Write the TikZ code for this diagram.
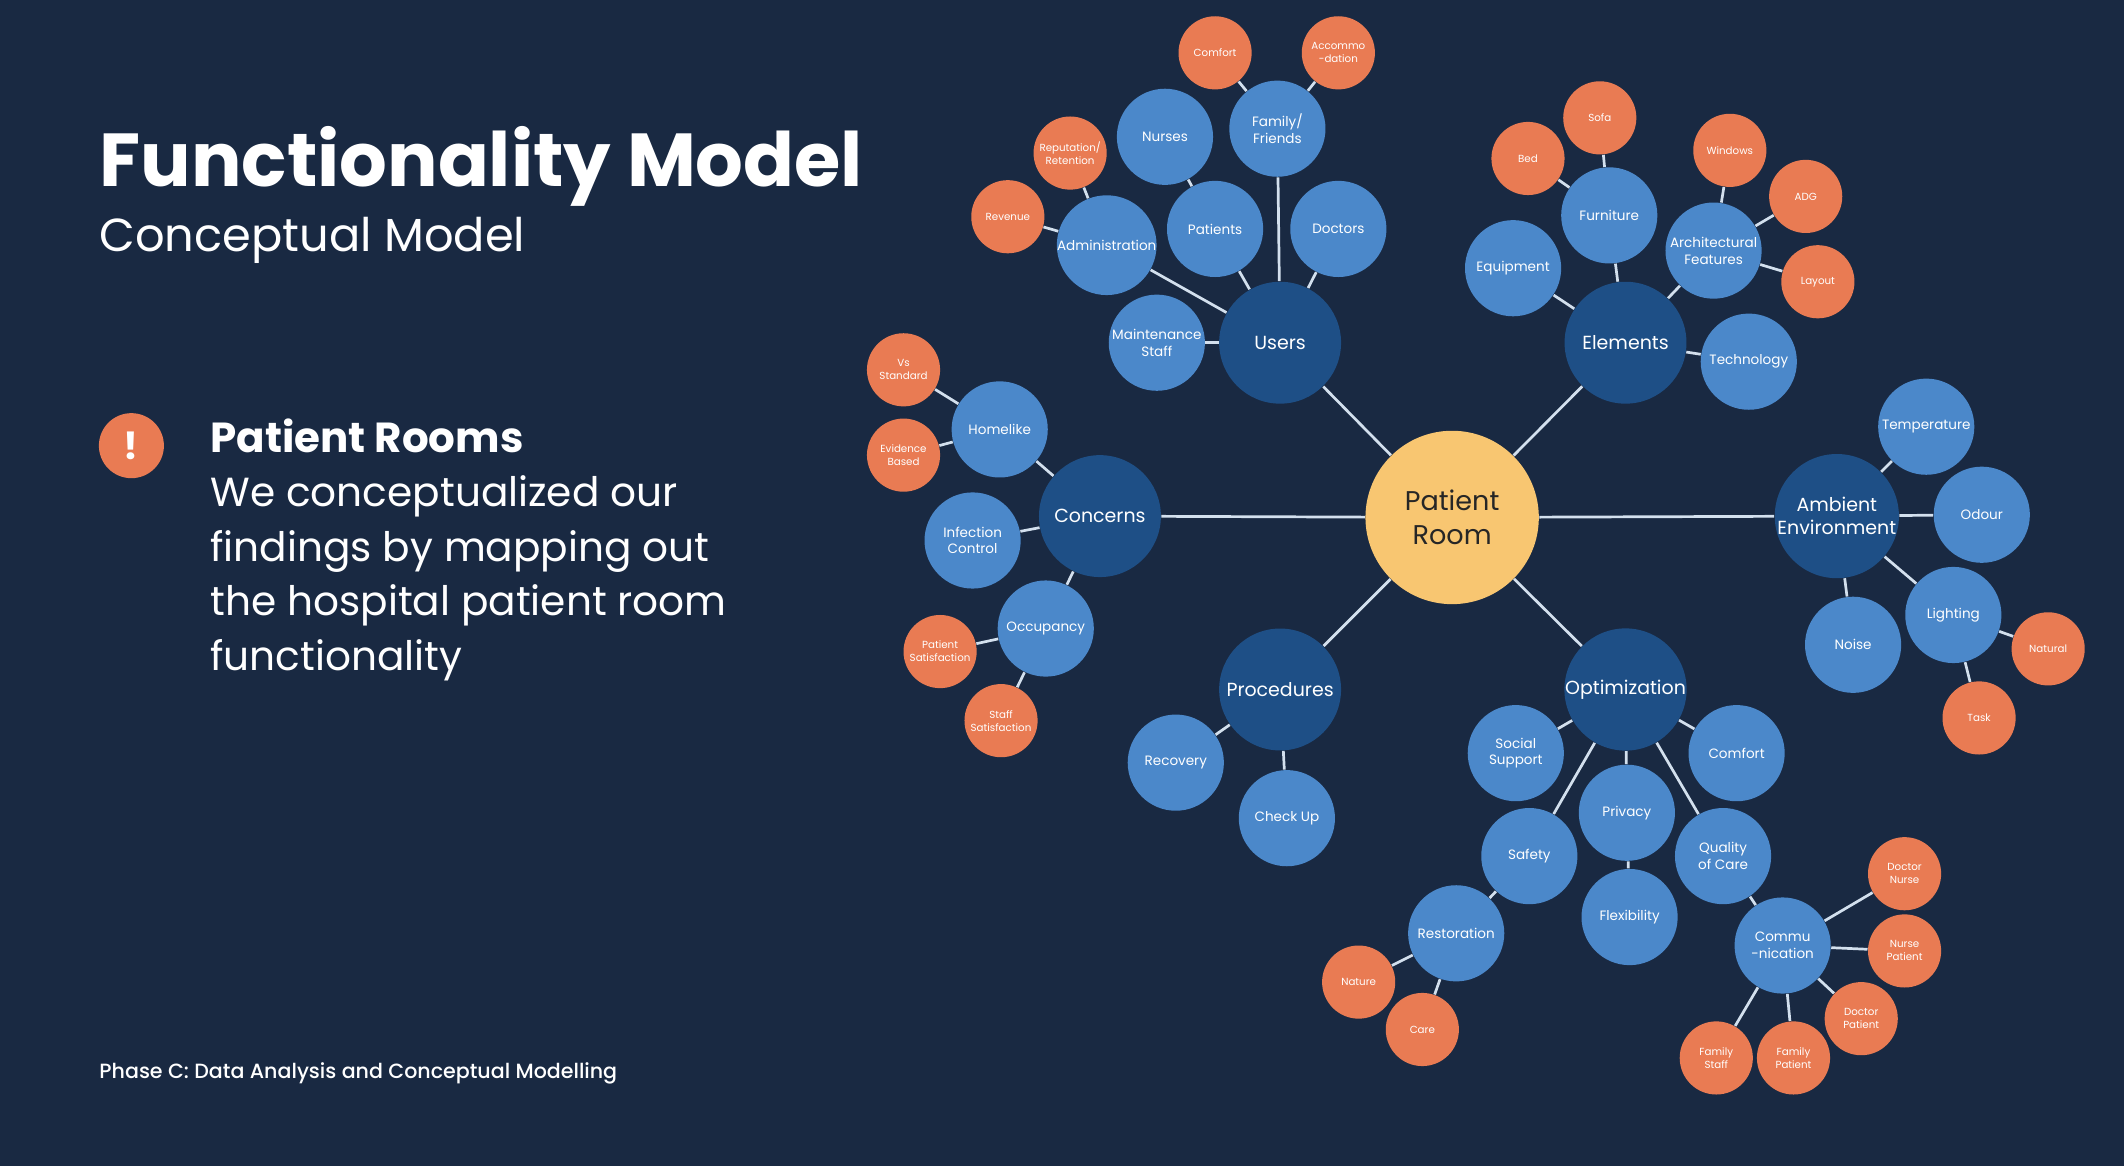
\documentclass[tikz,border=0pt]{standalone}
\usepackage{fontspec}
\setmainfont{Poppins}
\newfontfamily\medfont{Poppins Medium}

\definecolor{bgnavy}{HTML}{192942}
\definecolor{hubblue}{HTML}{1E4F86}
\definecolor{topicblue}{HTML}{4B88CA}
\definecolor{leaforange}{HTML}{E97B53}
\definecolor{coreyellow}{HTML}{F8C671}
\definecolor{linkgray}{HTML}{D3E0EE}

\begin{document}
\begin{tikzpicture}[
  x=0.5pt, y=-0.5pt,
  every node/.style={
    circle, inner sep=0pt, align=center, text=white,
  },
  core/.style={
    fill=coreyellow, minimum size=64pt, text=black!85,
    font=\fontsize{10}{12.5}\selectfont
  },
  hub/.style={
    fill=hubblue, minimum size=45pt,
    font=\fontsize{7}{8.5}\selectfont
  },
  topic/.style={
    fill=topicblue, minimum size=35.5pt,
    font=\fontsize{5}{6.2}\selectfont
  },
  leaf/.style={
    fill=leaforange, minimum size=27pt,
    font=\fontsize{3.8}{4.8}\selectfont
  },
  words/.style={
    rectangle, align=left, anchor=base west
  },
  link/.style={
    draw=linkgray, line width=1pt
  }
  ]
  \fill[bgnavy] (0,0) rectangle (1568,861);
  \useasboundingbox (0,0) rectangle (1568,861);

  % left column
  \node[words, font=\bfseries\fontsize{27.7}{33}\selectfont] (title) at (73,138) {Functionality Model};
  \node[words, font=\fontsize{17.1}{21}\selectfont] (subtitle) at (73,186) {Conceptual Model};
  \node[fill=leaforange, minimum size=24pt, font=\bfseries\fontsize{14}{16}\selectfont] (alert) at (97,329) {!};
  \node[words, font=\bfseries\fontsize{15.5}{20}\selectfont] (heading) at (155,334) {Patient Rooms};
  % base of a multi-line node is its last line
  \node[words, font=\fontsize{15}{20.2}\selectfont] (body) at (155,495)
    {We conceptualized our\\findings by mapping out\\the hospital patient room\\functionality};
  \node[words, font=\medfont\fontsize{7.6}{9}\selectfont] (phase) at (73,796)
    {Phase C: Data Analysis and Conceptual Modelling};

  % centre and hubs
  \node[core] (pr) at (1072,382) {Patient\\Room};
  \node[hub] (users) at (945,253) {Users};
  \node[hub] (elements) at (1200,253) {Elements};
  \node[hub] (concerns) at (812,381) {Concerns};
  \node[hub] (ambient) at (1356,381) {Ambient\\Environment};
  \node[hub] (procedures) at (945,509) {Procedures};
  \node[hub] (optim) at (1200,509) {Optimization};

  % users
  \node[topic] (nurses) at (860,101) {Nurses};
  \node[topic] (family) at (943,95) {Family/\\Friends};
  \node[topic] (patients) at (897,169) {Patients};
  \node[topic] (doctors) at (988,169) {Doctors};
  \node[topic] (admin) at (817,181) {Administration};
  \node[topic] (maint) at (854,253) {Maintenance\\Staff};
  \node[leaf] (ucomfort) at (897,39) {Comfort};
  \node[leaf] (accom) at (988,39) {Accommo\\-dation};
  \node[leaf] (reput) at (790,113) {Reputation/\\Retention};
  \node[leaf] (revenue) at (744,160) {Revenue};

  % elements
  \node[topic] (furniture) at (1188,159) {Furniture};
  \node[topic] (equip) at (1117,198) {Equipment};
  \node[topic] (arch) at (1265,185) {Architectural\\Features};
  \node[topic] (tech) at (1291,267) {Technology};
  \node[leaf] (bed) at (1128,117) {Bed};
  \node[leaf] (sofa) at (1181,87) {Sofa};
  \node[leaf] (windows) at (1277,111) {Windows};
  \node[leaf] (adg) at (1333,145) {ADG};
  \node[leaf] (layout) at (1342,208) {Layout};

  % concerns
  \node[topic] (homelike) at (738,317) {Homelike};
  \node[topic] (infection) at (718,399) {Infection\\Control};
  \node[topic] (occupancy) at (772,464) {Occupancy};
  \node[leaf] (vsstd) at (667,273) {Vs\\Standard};
  \node[leaf] (evidence) at (667,336) {Evidence\\Based};
  \node[leaf] (patsat) at (694,481) {Patient\\Satisfaction};
  \node[leaf] (staffsat) at (739,532) {Staff\\Satisfaction};

  % ambient environment
  \node[topic] (temp) at (1422,315) {Temperature};
  \node[topic] (odour) at (1463,380) {Odour};
  \node[topic] (lighting) at (1442,454) {Lighting};
  \node[topic] (noise) at (1368,476) {Noise};
  \node[leaf] (natural) at (1512,479) {Natural};
  \node[leaf] (task) at (1461,530) {Task};

  % procedures
  \node[topic] (recovery) at (868,563) {Recovery};
  \node[topic] (checkup) at (950,604) {Check Up};

  % optimization
  \node[topic] (social) at (1119,556) {Social\\Support};
  \node[topic] (ocomfort) at (1282,556) {Comfort};
  \node[topic] (privacy) at (1201,600) {Privacy};
  \node[topic] (safety) at (1129,632) {Safety};
  \node[topic] (quality) at (1272,632) {Quality\\of Care};
  \node[topic] (flex) at (1203,677) {Flexibility};
  \node[topic] (restor) at (1075,689) {Restoration};
  \node[topic] (commu) at (1316,698) {Commu\\-nication};
  \node[leaf] (nature) at (1003,725) {Nature};
  \node[leaf] (care) at (1050,760) {Care};
  \node[leaf] (docnurse) at (1406,645) {Doctor\\Nurse};
  \node[leaf] (nursepat) at (1406,702) {Nurse\\Patient};
  \node[leaf] (docpat) at (1374,752) {Doctor\\Patient};
  \node[leaf] (famstaff) at (1267,781) {Family\\Staff};
  \node[leaf] (fampat) at (1324,781) {Family\\Patient};

  % connectors
  \foreach \a/\b in {pr/users, pr/elements, pr/concerns, pr/ambient, pr/procedures, pr/optim,
    users/admin, users/patients, users/family, users/doctors, users/maint, patients/nurses,
    family/ucomfort, family/accom, admin/reput, admin/revenue,
    elements/furniture, elements/equip, elements/arch, elements/tech,
    furniture/bed, furniture/sofa, arch/windows, arch/adg, arch/layout,
    concerns/homelike, concerns/infection, concerns/occupancy,
    homelike/vsstd, homelike/evidence, occupancy/patsat, occupancy/staffsat,
    ambient/temp, ambient/odour, ambient/lighting, ambient/noise,
    lighting/natural, lighting/task,
    procedures/recovery, procedures/checkup,
    optim/social, optim/ocomfort, optim/privacy, optim/safety, optim/quality,
    privacy/flex, safety/restor, quality/commu, restor/nature, restor/care,
    commu/docnurse, commu/nursepat, commu/docpat, commu/famstaff, commu/fampat}
    \draw[link] (\a) -- (\b);
\end{tikzpicture}
\end{document}
